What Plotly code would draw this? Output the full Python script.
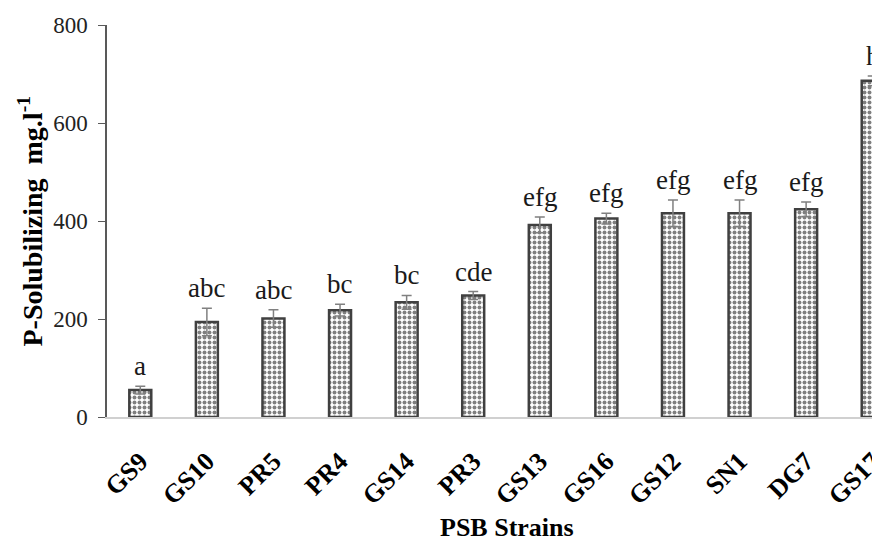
import plotly.graph_objects as go

strains = ["GS9", "GS10", "PR5", "PR4", "GS14", "PR3", "GS13", "GS16", "GS12", "SN1", "DG7", "GS17"]
p_sol = [55, 194, 201, 218, 234, 248, 392, 405, 416, 416, 424, 686]
err = [8, 28, 18, 12, 14, 8, 16, 11, 27, 27, 15, 10]
groups = ["a", "abc", "abc", "bc", "bc", "cde", "efg", "efg", "efg", "efg", "efg", "h"]
y_ticks = [0, 200, 400, 600, 800]

FONT = "Liberation Serif"
# the page body has an 8px margin, so the figure is laid out 8px up/left
W, H = 872, 532
L, T, PLOT_H = 99, 17, 392
PLOT_W = W - L
BOTTOM = T + PLOT_H

fig = go.Figure()
fig.add_trace(go.Bar(
    x=list(range(len(strains))),
    y=p_sol,
    marker=dict(
        color="white",
        line=dict(color="#404040", width=2.5),
        pattern=dict(shape=".", fgcolor="black", bgcolor="white", size=5, solidity=0.5),
    ),
    error_y=dict(type="data", array=err, visible=True, color="#808080", thickness=1.5, width=5),
    width=0.33,
    showlegend=False,
))

for i, (v, e, g) in enumerate(zip(p_sol, err, groups)):
    fig.add_annotation(x=i, y=v + e, text=g, showarrow=False, yanchor="bottom", yshift=3,
                       font=dict(family=FONT, size=27, color="#1a1a1a"))

fig.add_annotation(x=5.5, xref="x", y=(BOTTOM - 519) / PLOT_H, yref="paper",
                   text="<b>PSB Strains</b>", showarrow=False, yanchor="middle",
                   font=dict(family=FONT, size=26, color="black"))

fig.add_annotation(x=(22.5 - L) / PLOT_W, xref="paper", y=(BOTTOM - 214) / PLOT_H, yref="paper",
                   text="<b>P-Solubilizing &nbsp;mg.l<sup>-1</sup></b>", textangle=-90,
                   showarrow=False, xanchor="center", yanchor="middle",
                   font=dict(family=FONT, size=28, color="black"))

fig.update_layout(
    width=W, height=H,
    margin=dict(l=L, r=0, t=T, b=H - BOTTOM),
    plot_bgcolor="white", paper_bgcolor="white",
    font=dict(family=FONT, color="black"),
)
fig.update_xaxes(
    range=[-0.5, -0.5 + 12 * PLOT_W / 799],
    tickmode="array", tickvals=list(range(len(strains))),
    ticktext=[f"<b>{s}</b>" for s in strains],
    tickangle=-45, tickfont=dict(family=FONT, size=26, color="black"),
    ticklabeloverflow="allow", automargin=False, ticklabelstandoff=17,
    showline=True, linecolor="#d0d0d0", linewidth=1.5, ticks="", showgrid=False,
)
fig.update_yaxes(
    range=[0, 800], tickvals=y_ticks, automargin=False,
    tickfont=dict(family=FONT, size=23, color="#222"), ticklabelstandoff=6,
    showline=True, linecolor="#595959", linewidth=1.5,
    ticks="outside", ticklen=7, tickcolor="#595959", showgrid=False, zeroline=False,
)

fig.write_html("out.html")
